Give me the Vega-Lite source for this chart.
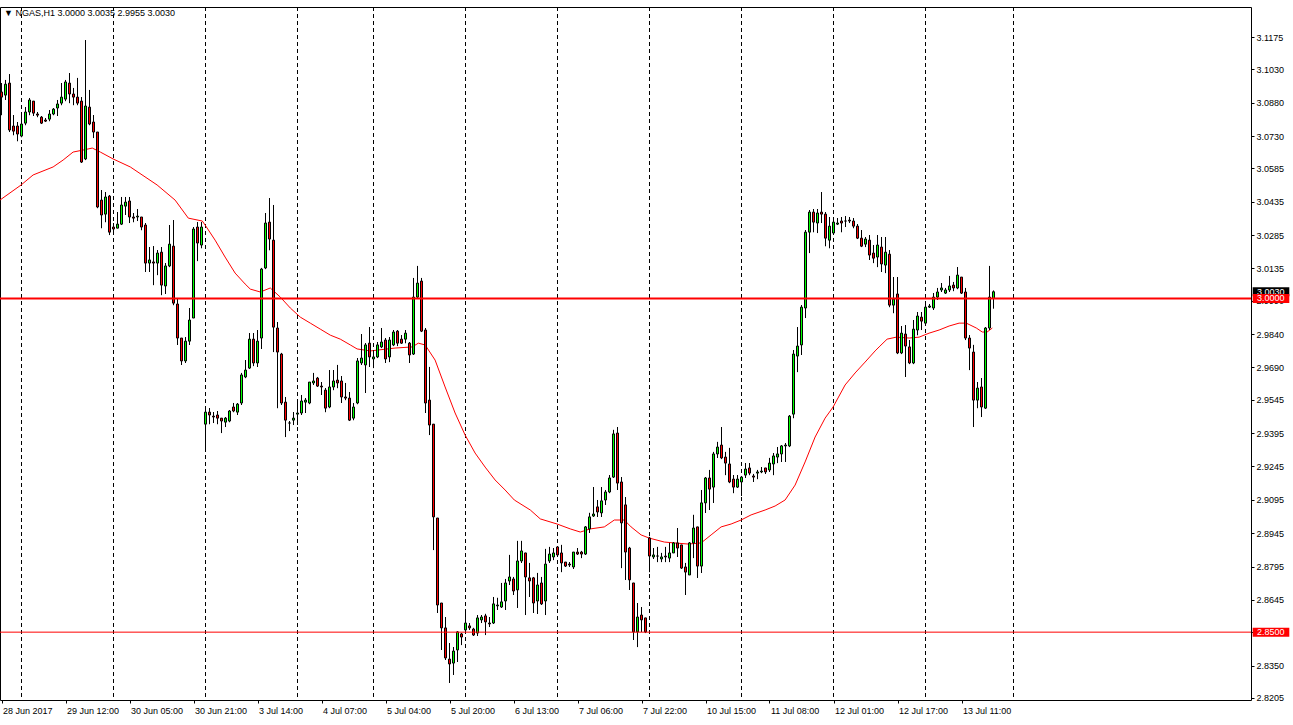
{
"$schema": "https://vega.github.io/schema/vega-lite/v6.json",
"width": 1251,
"height": 693,
"autosize": {"type": "none"},
"padding": {"left": 0, "top": 7, "right": 42, "bottom": 25},
"background": "white",
"title": {"text": "▼ NGAS,H1  3.0000 3.0035 2.9955 3.0030", "anchor": "start", "frame": "group", "orient": "top", "offset": -11, "dx": 4, "fontSize": 9, "fontWeight": "normal", "font": "Liberation Sans", "color": "black"},
"config": {"view": {"stroke": "black", "strokeWidth": 1}, "scale": {"continuousPadding": 0}, "axis": {"labelOverlap": false, "labelFlush": false, "labelBound": false}},
"datasets": {
"bars": [
{"i":1,"o":3.0928,"h":3.0968,"l":3.0824,"c":3.0905},
{"i":2,"o":3.0914,"h":3.0982,"l":3.0892,"c":3.0963},
{"i":3,"o":3.0968,"h":3.1008,"l":3.0748,"c":3.0757},
{"i":4,"o":3.0775,"h":3.0824,"l":3.0734,"c":3.0752},
{"i":5,"o":3.0775,"h":3.0793,"l":3.0707,"c":3.0739},
{"i":6,"o":3.0730,"h":3.0824,"l":3.0725,"c":3.0784},
{"i":7,"o":3.0788,"h":3.0860,"l":3.0779,"c":3.0838},
{"i":8,"o":3.0838,"h":3.0901,"l":3.0824,"c":3.0892},
{"i":9,"o":3.0887,"h":3.0887,"l":3.0820,"c":3.0833},
{"i":10,"o":3.0829,"h":3.0838,"l":3.0815,"c":3.0824},
{"i":11,"o":3.0815,"h":3.0820,"l":3.0784,"c":3.0788},
{"i":12,"o":3.0802,"h":3.0811,"l":3.0793,"c":3.0797},
{"i":13,"o":3.0806,"h":3.0847,"l":3.0797,"c":3.0829},
{"i":14,"o":3.0829,"h":3.0856,"l":3.0824,"c":3.0851},
{"i":15,"o":3.0856,"h":3.0892,"l":3.0820,"c":3.0874},
{"i":16,"o":3.0878,"h":3.0968,"l":3.0869,"c":3.0905},
{"i":17,"o":3.0896,"h":3.0982,"l":3.0887,"c":3.0973},
{"i":18,"o":3.0968,"h":3.1013,"l":3.0878,"c":3.0919},
{"i":19,"o":3.0919,"h":3.0946,"l":3.0869,"c":3.0905},
{"i":20,"o":3.0905,"h":3.0991,"l":3.0869,"c":3.0878},
{"i":21,"o":3.0887,"h":3.0905,"l":3.0609,"c":3.0613},
{"i":22,"o":3.0627,"h":3.1161,"l":3.0622,"c":3.0865},
{"i":23,"o":3.0860,"h":3.0937,"l":3.0779,"c":3.0784},
{"i":24,"o":3.0793,"h":3.0824,"l":3.0721,"c":3.0748},
{"i":25,"o":3.0748,"h":3.0748,"l":3.0406,"c":3.0411},
{"i":26,"o":3.0442,"h":3.0487,"l":3.0316,"c":3.0375},
{"i":27,"o":3.0379,"h":3.0478,"l":3.0343,"c":3.0456},
{"i":28,"o":3.0460,"h":3.0465,"l":3.0285,"c":3.0298},
{"i":29,"o":3.0321,"h":3.0339,"l":3.0298,"c":3.0312},
{"i":30,"o":3.0316,"h":3.0388,"l":3.0316,"c":3.0334},
{"i":31,"o":3.0334,"h":3.0456,"l":3.0330,"c":3.0420},
{"i":32,"o":3.0415,"h":3.0456,"l":3.0375,"c":3.0433},
{"i":33,"o":3.0438,"h":3.0456,"l":3.0339,"c":3.0366},
{"i":34,"o":3.0366,"h":3.0384,"l":3.0343,"c":3.0361},
{"i":35,"o":3.0366,"h":3.0402,"l":3.0348,"c":3.0370},
{"i":36,"o":3.0366,"h":3.0366,"l":3.0307,"c":3.0321},
{"i":37,"o":3.0330,"h":3.0339,"l":3.0119,"c":3.0159},
{"i":38,"o":3.0159,"h":3.0231,"l":3.0119,"c":3.0173},
{"i":39,"o":3.0164,"h":3.0235,"l":3.0060,"c":3.0159},
{"i":40,"o":3.0159,"h":3.0217,"l":3.0105,"c":3.0204},
{"i":41,"o":3.0208,"h":3.0231,"l":3.0015,"c":3.0060},
{"i":42,"o":3.0056,"h":3.0159,"l":3.0020,"c":3.0146},
{"i":43,"o":3.0146,"h":3.0330,"l":3.0141,"c":3.0244},
{"i":44,"o":3.0235,"h":3.0352,"l":2.9970,"c":2.9979},
{"i":45,"o":2.9975,"h":3.0002,"l":2.9791,"c":2.9822},
{"i":46,"o":2.9822,"h":2.9822,"l":2.9701,"c":2.9719},
{"i":47,"o":2.9719,"h":2.9826,"l":2.9710,"c":2.9808},
{"i":48,"o":2.9808,"h":2.9957,"l":2.9791,"c":2.9903},
{"i":49,"o":2.9912,"h":3.0321,"l":2.9912,"c":3.0312},
{"i":50,"o":3.0321,"h":3.0343,"l":3.0168,"c":3.0249},
{"i":51,"o":3.0240,"h":3.0343,"l":3.0226,"c":3.0321},
{"i":52,"o":2.9435,"h":2.9503,"l":2.9310,"c":2.9489},
{"i":53,"o":2.9489,"h":2.9507,"l":2.9435,"c":2.9476},
{"i":54,"o":2.9471,"h":2.9489,"l":2.9440,"c":2.9467},
{"i":55,"o":2.9476,"h":2.9494,"l":2.9435,"c":2.9462},
{"i":56,"o":2.9462,"h":2.9462,"l":2.9395,"c":2.9449},
{"i":57,"o":2.9444,"h":2.9467,"l":2.9422,"c":2.9462},
{"i":58,"o":2.9449,"h":2.9498,"l":2.9444,"c":2.9494},
{"i":59,"o":2.9512,"h":2.9530,"l":2.9489,"c":2.9494},
{"i":60,"o":2.9489,"h":2.9530,"l":2.9476,"c":2.9525},
{"i":61,"o":2.9530,"h":2.9665,"l":2.9521,"c":2.9656},
{"i":62,"o":2.9647,"h":2.9723,"l":2.9642,"c":2.9678},
{"i":63,"o":2.9687,"h":2.9844,"l":2.9683,"c":2.9817},
{"i":64,"o":2.9817,"h":2.9844,"l":2.9696,"c":2.9710},
{"i":65,"o":2.9710,"h":2.9858,"l":2.9692,"c":2.9808},
{"i":66,"o":2.9822,"h":3.0137,"l":2.9773,"c":3.0132},
{"i":67,"o":3.0137,"h":3.0384,"l":3.0132,"c":3.0339},
{"i":68,"o":3.0343,"h":3.0451,"l":3.0217,"c":3.0267},
{"i":69,"o":3.0262,"h":3.0420,"l":2.9759,"c":2.9871},
{"i":70,"o":2.9867,"h":2.9894,"l":2.9507,"c":2.9759},
{"i":71,"o":2.9750,"h":2.9755,"l":2.9521,"c":2.9530},
{"i":72,"o":2.9534,"h":2.9557,"l":2.9377,"c":2.9453},
{"i":73,"o":2.9440,"h":2.9449,"l":2.9404,"c":2.9440},
{"i":74,"o":2.9453,"h":2.9489,"l":2.9431,"c":2.9462},
{"i":75,"o":2.9480,"h":2.9530,"l":2.9431,"c":2.9485},
{"i":76,"o":2.9485,"h":2.9566,"l":2.9476,"c":2.9539},
{"i":77,"o":2.9534,"h":2.9552,"l":2.9485,"c":2.9543},
{"i":78,"o":2.9530,"h":2.9624,"l":2.9525,"c":2.9624},
{"i":79,"o":2.9620,"h":2.9665,"l":2.9611,"c":2.9629},
{"i":80,"o":2.9642,"h":2.9647,"l":2.9602,"c":2.9606},
{"i":81,"o":2.9606,"h":2.9624,"l":2.9566,"c":2.9602},
{"i":82,"o":2.9588,"h":2.9597,"l":2.9489,"c":2.9507},
{"i":83,"o":2.9512,"h":2.9678,"l":2.9507,"c":2.9602},
{"i":84,"o":2.9602,"h":2.9678,"l":2.9588,"c":2.9629},
{"i":85,"o":2.9633,"h":2.9701,"l":2.9597,"c":2.9620},
{"i":86,"o":2.9629,"h":2.9651,"l":2.9530,"c":2.9557},
{"i":87,"o":2.9557,"h":2.9620,"l":2.9543,"c":2.9552},
{"i":88,"o":2.9552,"h":2.9579,"l":2.9449,"c":2.9453},
{"i":89,"o":2.9462,"h":2.9530,"l":2.9453,"c":2.9512},
{"i":90,"o":2.9530,"h":2.9732,"l":2.9525,"c":2.9719},
{"i":91,"o":2.9710,"h":2.9840,"l":2.9701,"c":2.9732},
{"i":92,"o":2.9701,"h":2.9799,"l":2.9575,"c":2.9791},
{"i":93,"o":2.9799,"h":2.9871,"l":2.9692,"c":2.9737},
{"i":94,"o":2.9728,"h":2.9768,"l":2.9687,"c":2.9737},
{"i":95,"o":2.9737,"h":2.9804,"l":2.9732,"c":2.9791},
{"i":96,"o":2.9782,"h":2.9867,"l":2.9777,"c":2.9804},
{"i":97,"o":2.9813,"h":2.9822,"l":2.9710,"c":2.9728},
{"i":98,"o":2.9737,"h":2.9826,"l":2.9714,"c":2.9813},
{"i":99,"o":2.9791,"h":2.9858,"l":2.9786,"c":2.9849},
{"i":100,"o":2.9853,"h":2.9858,"l":2.9786,"c":2.9799},
{"i":101,"o":2.9817,"h":2.9835,"l":2.9797,"c":2.9799},
{"i":102,"o":2.9817,"h":2.9858,"l":2.9799,"c":2.9844},
{"i":103,"o":2.9799,"h":2.9804,"l":2.9710,"c":2.9746},
{"i":104,"o":2.9750,"h":3.0092,"l":2.9746,"c":3.0006},
{"i":105,"o":3.0006,"h":3.0146,"l":3.0002,"c":3.0069},
{"i":106,"o":3.0078,"h":3.0092,"l":2.9849,"c":2.9853},
{"i":107,"o":2.9858,"h":2.9867,"l":2.9485,"c":2.9530},
{"i":108,"o":2.9543,"h":2.9692,"l":2.9386,"c":2.9431},
{"i":109,"o":2.9435,"h":2.9435,"l":2.8869,"c":2.9018},
{"i":110,"o":2.9013,"h":2.9013,"l":2.8586,"c":2.8622},
{"i":111,"o":2.8631,"h":2.8631,"l":2.8420,"c":2.8519},
{"i":112,"o":2.8519,"h":2.8568,"l":2.8375,"c":2.8384},
{"i":113,"o":2.8379,"h":2.8451,"l":2.8272,"c":2.8357},
{"i":114,"o":2.8361,"h":2.8433,"l":2.8308,"c":2.8415},
{"i":115,"o":2.8420,"h":2.8505,"l":2.8366,"c":2.8501},
{"i":116,"o":2.8492,"h":2.8496,"l":2.8442,"c":2.8478},
{"i":117,"o":2.8510,"h":2.8586,"l":2.8496,"c":2.8541},
{"i":118,"o":2.8528,"h":2.8541,"l":2.8510,"c":2.8519},
{"i":119,"o":2.8514,"h":2.8519,"l":2.8483,"c":2.8487},
{"i":120,"o":2.8496,"h":2.8577,"l":2.8483,"c":2.8564},
{"i":121,"o":2.8555,"h":2.8577,"l":2.8541,"c":2.8568},
{"i":122,"o":2.8573,"h":2.8582,"l":2.8487,"c":2.8546},
{"i":123,"o":2.8541,"h":2.8568,"l":2.8523,"c":2.8537},
{"i":124,"o":2.8541,"h":2.8658,"l":2.8537,"c":2.8627},
{"i":125,"o":2.8618,"h":2.8654,"l":2.8600,"c":2.8622},
{"i":126,"o":2.8613,"h":2.8721,"l":2.8609,"c":2.8636},
{"i":127,"o":2.8640,"h":2.8739,"l":2.8600,"c":2.8721},
{"i":128,"o":2.8730,"h":2.8847,"l":2.8712,"c":2.8748},
{"i":129,"o":2.8739,"h":2.8748,"l":2.8667,"c":2.8685},
{"i":130,"o":2.8690,"h":2.8910,"l":2.8609,"c":2.8820},
{"i":131,"o":2.8820,"h":2.8910,"l":2.8811,"c":2.8865},
{"i":132,"o":2.8856,"h":2.8856,"l":2.8577,"c":2.8748},
{"i":133,"o":2.8744,"h":2.8811,"l":2.8658,"c":2.8730},
{"i":134,"o":2.8744,"h":2.8748,"l":2.8586,"c":2.8631},
{"i":135,"o":2.8640,"h":2.8766,"l":2.8582,"c":2.8712},
{"i":136,"o":2.8721,"h":2.8748,"l":2.8622,"c":2.8627},
{"i":137,"o":2.8640,"h":2.8874,"l":2.8577,"c":2.8806},
{"i":138,"o":2.8820,"h":2.8883,"l":2.8811,"c":2.8851},
{"i":139,"o":2.8838,"h":2.8878,"l":2.8824,"c":2.8856},
{"i":140,"o":2.8883,"h":2.8883,"l":2.8842,"c":2.8847},
{"i":141,"o":2.8856,"h":2.8892,"l":2.8770,"c":2.8811},
{"i":142,"o":2.8815,"h":2.8815,"l":2.8793,"c":2.8797},
{"i":143,"o":2.8806,"h":2.8815,"l":2.8793,"c":2.8802},
{"i":144,"o":2.8793,"h":2.8860,"l":2.8784,"c":2.8860},
{"i":145,"o":2.8860,"h":2.8878,"l":2.8847,"c":2.8851},
{"i":146,"o":2.8860,"h":2.8865,"l":2.8833,"c":2.8851},
{"i":147,"o":2.8851,"h":2.8977,"l":2.8847,"c":2.8973},
{"i":148,"o":2.8964,"h":2.9036,"l":2.8946,"c":2.9018},
{"i":149,"o":2.9022,"h":2.9152,"l":2.9018,"c":2.9031},
{"i":150,"o":2.9063,"h":2.9094,"l":2.9018,"c":2.9040},
{"i":151,"o":2.9036,"h":2.9152,"l":2.9018,"c":2.9090},
{"i":152,"o":2.9094,"h":2.9139,"l":2.9072,"c":2.9130},
{"i":153,"o":2.9130,"h":2.9206,"l":2.9125,"c":2.9193},
{"i":154,"o":2.9197,"h":2.9409,"l":2.9193,"c":2.9391},
{"i":155,"o":2.9395,"h":2.9422,"l":2.9139,"c":2.9170},
{"i":156,"o":2.9175,"h":2.9197,"l":2.8788,"c":2.8991},
{"i":157,"o":2.9072,"h":2.9107,"l":2.8735,"c":2.8860},
{"i":158,"o":2.8878,"h":2.8883,"l":2.8690,"c":2.8735},
{"i":159,"o":2.8721,"h":2.8721,"l":2.8465,"c":2.8501},
{"i":160,"o":2.8501,"h":2.8631,"l":2.8433,"c":2.8568},
{"i":161,"o":2.8577,"h":2.8613,"l":2.8501,"c":2.8555},
{"i":162,"o":2.8564,"h":2.8564,"l":2.8496,"c":2.8501},
{"i":163,"o":2.8923,"h":2.8928,"l":2.8770,"c":2.8842},
{"i":164,"o":2.8838,"h":2.8878,"l":2.8829,"c":2.8847},
{"i":165,"o":2.8842,"h":2.8883,"l":2.8815,"c":2.8842},
{"i":166,"o":2.8829,"h":2.8856,"l":2.8815,"c":2.8838},
{"i":167,"o":2.8842,"h":2.8883,"l":2.8815,"c":2.8838},
{"i":168,"o":2.8833,"h":2.8901,"l":2.8815,"c":2.8856},
{"i":169,"o":2.8856,"h":2.8905,"l":2.8856,"c":2.8901},
{"i":170,"o":2.8901,"h":2.8968,"l":2.8838,"c":2.8878},
{"i":171,"o":2.8892,"h":2.8892,"l":2.8784,"c":2.8788},
{"i":172,"o":2.8793,"h":2.8811,"l":2.8667,"c":2.8770},
{"i":173,"o":2.8757,"h":2.8905,"l":2.8757,"c":2.8901},
{"i":174,"o":2.8901,"h":2.9027,"l":2.8833,"c":2.8968},
{"i":175,"o":2.8973,"h":2.8973,"l":2.8744,"c":2.8797},
{"i":176,"o":2.8797,"h":2.9139,"l":2.8766,"c":2.9081},
{"i":177,"o":2.9081,"h":2.9197,"l":2.9036,"c":2.9193},
{"i":178,"o":2.9193,"h":2.9229,"l":2.9049,"c":2.9143},
{"i":179,"o":2.9152,"h":2.9310,"l":2.9081,"c":2.9301},
{"i":180,"o":2.9301,"h":2.9355,"l":2.9283,"c":2.9332},
{"i":181,"o":2.9341,"h":2.9422,"l":2.9278,"c":2.9283},
{"i":182,"o":2.9287,"h":2.9310,"l":2.9206,"c":2.9260},
{"i":183,"o":2.9256,"h":2.9328,"l":2.9170,"c":2.9175},
{"i":184,"o":2.9188,"h":2.9206,"l":2.9125,"c":2.9152},
{"i":185,"o":2.9152,"h":2.9206,"l":2.9148,"c":2.9188},
{"i":186,"o":2.9175,"h":2.9202,"l":2.9112,"c":2.9197},
{"i":187,"o":2.9206,"h":2.9260,"l":2.9193,"c":2.9233},
{"i":188,"o":2.9238,"h":2.9260,"l":2.9206,"c":2.9215},
{"i":189,"o":2.9202,"h":2.9211,"l":2.9175,"c":2.9197},
{"i":190,"o":2.9215,"h":2.9229,"l":2.9188,"c":2.9220},
{"i":191,"o":2.9220,"h":2.9242,"l":2.9215,"c":2.9224},
{"i":192,"o":2.9238,"h":2.9238,"l":2.9211,"c":2.9220},
{"i":193,"o":2.9229,"h":2.9283,"l":2.9220,"c":2.9260},
{"i":194,"o":2.9256,"h":2.9305,"l":2.9206,"c":2.9292},
{"i":195,"o":2.9287,"h":2.9332,"l":2.9260,"c":2.9301},
{"i":196,"o":2.9301,"h":2.9341,"l":2.9265,"c":2.9337},
{"i":197,"o":2.9337,"h":2.9350,"l":2.9265,"c":2.9341},
{"i":198,"o":2.9337,"h":2.9476,"l":2.9332,"c":2.9471},
{"i":199,"o":2.9480,"h":2.9768,"l":2.9462,"c":2.9750},
{"i":200,"o":2.9741,"h":2.9871,"l":2.9669,"c":2.9786},
{"i":201,"o":2.9791,"h":2.9970,"l":2.9746,"c":2.9961},
{"i":202,"o":2.9957,"h":3.0307,"l":2.9912,"c":3.0298},
{"i":203,"o":3.0298,"h":3.0397,"l":3.0204,"c":3.0388},
{"i":204,"o":3.0388,"h":3.0402,"l":3.0298,"c":3.0343},
{"i":205,"o":3.0339,"h":3.0402,"l":3.0294,"c":3.0384},
{"i":206,"o":3.0388,"h":3.0478,"l":3.0339,"c":3.0379},
{"i":207,"o":3.0379,"h":3.0388,"l":3.0235,"c":3.0271},
{"i":208,"o":3.0262,"h":3.0366,"l":3.0226,"c":3.0325},
{"i":209,"o":3.0294,"h":3.0366,"l":3.0289,"c":3.0343},
{"i":210,"o":3.0334,"h":3.0361,"l":3.0330,"c":3.0339},
{"i":211,"o":3.0348,"h":3.0366,"l":3.0298,"c":3.0339},
{"i":212,"o":3.0348,"h":3.0370,"l":3.0321,"c":3.0348},
{"i":213,"o":3.0352,"h":3.0366,"l":3.0339,"c":3.0348},
{"i":214,"o":3.0348,"h":3.0361,"l":3.0316,"c":3.0325},
{"i":215,"o":3.0325,"h":3.0334,"l":3.0267,"c":3.0271},
{"i":216,"o":3.0271,"h":3.0307,"l":3.0231,"c":3.0235},
{"i":217,"o":3.0244,"h":3.0276,"l":3.0231,"c":3.0267},
{"i":218,"o":3.0262,"h":3.0285,"l":3.0173,"c":3.0195},
{"i":219,"o":3.0204,"h":3.0240,"l":3.0159,"c":3.0181},
{"i":220,"o":3.0186,"h":3.0285,"l":3.0141,"c":3.0240},
{"i":221,"o":3.0231,"h":3.0276,"l":3.0119,"c":3.0155},
{"i":222,"o":3.0150,"h":3.0276,"l":3.0114,"c":3.0208},
{"i":223,"o":3.0199,"h":3.0217,"l":2.9961,"c":2.9970},
{"i":224,"o":2.9970,"h":3.0096,"l":2.9934,"c":2.9997},
{"i":225,"o":3.0020,"h":3.0096,"l":2.9750,"c":2.9755},
{"i":226,"o":2.9755,"h":2.9876,"l":2.9750,"c":2.9844},
{"i":227,"o":2.9840,"h":2.9880,"l":2.9647,"c":2.9786},
{"i":228,"o":2.9782,"h":2.9813,"l":2.9705,"c":2.9710},
{"i":229,"o":2.9710,"h":2.9903,"l":2.9705,"c":2.9862},
{"i":230,"o":2.9858,"h":2.9939,"l":2.9835,"c":2.9921},
{"i":231,"o":2.9916,"h":2.9939,"l":2.9858,"c":2.9898},
{"i":232,"o":2.9889,"h":2.9970,"l":2.9885,"c":2.9961},
{"i":233,"o":2.9961,"h":2.9975,"l":2.9957,"c":2.9966},
{"i":234,"o":2.9957,"h":3.0024,"l":2.9948,"c":3.0006},
{"i":235,"o":3.0006,"h":3.0047,"l":2.9993,"c":3.0029},
{"i":236,"o":3.0038,"h":3.0069,"l":3.0029,"c":3.0047},
{"i":237,"o":3.0024,"h":3.0047,"l":3.0020,"c":3.0038},
{"i":238,"o":3.0038,"h":3.0101,"l":3.0029,"c":3.0056},
{"i":239,"o":3.0060,"h":3.0074,"l":3.0033,"c":3.0047},
{"i":240,"o":3.0047,"h":3.0141,"l":3.0042,"c":3.0105},
{"i":241,"o":3.0096,"h":3.0096,"l":3.0020,"c":3.0024},
{"i":242,"o":3.0029,"h":3.0047,"l":2.9813,"c":2.9822},
{"i":243,"o":2.9822,"h":2.9835,"l":2.9678,"c":2.9777},
{"i":244,"o":2.9759,"h":2.9791,"l":2.9422,"c":2.9543},
{"i":245,"o":2.9543,"h":2.9624,"l":2.9507,"c":2.9597},
{"i":246,"o":2.9602,"h":2.9642,"l":2.9467,"c":2.9512},
{"i":247,"o":2.9507,"h":2.9871,"l":2.9503,"c":2.9867},
{"i":248,"o":2.9867,"h":3.0146,"l":2.9858,"c":3.0006},
{"i":249,"o":3.0000,"h":3.0035,"l":2.9955,"c":3.0030}
],
"ma": [
{"i":0.6,"p":3.0442},{"i":5.9,"p":3.0510},{"i":8.9,"p":3.0555},{"i":13.9,"p":3.0591},{"i":16.4,"p":3.0622},{"i":18.9,"p":3.0658},{"i":21.4,"p":3.0667},{"i":23.7,"p":3.0676},{"i":25.7,"p":3.0658},{"i":28.9,"p":3.0627},{"i":33.2,"p":3.0591},{"i":39.9,"p":3.0510},{"i":44.4,"p":3.0442},{"i":47.7,"p":3.0361},{"i":51.2,"p":3.0348},{"i":51.9,"p":3.0330},{"i":54.4,"p":3.0262},{"i":56.9,"p":3.0186},{"i":59.4,"p":3.0114},{"i":61.9,"p":3.0065},{"i":63.2,"p":3.0042},{"i":65.7,"p":3.0029},{"i":68.2,"p":3.0047},{"i":70.7,"p":3.0006},{"i":73.2,"p":2.9957},{"i":75.7,"p":2.9916},{"i":78.2,"p":2.9889},{"i":80.7,"p":2.9862},{"i":83.2,"p":2.9835},{"i":85.7,"p":2.9817},{"i":88.2,"p":2.9791},{"i":89.9,"p":2.9773},{"i":93.2,"p":2.9764},{"i":99.4,"p":2.9777},{"i":103.7,"p":2.9782},{"i":105.2,"p":2.9799},{"i":106.9,"p":2.9791},{"i":109.4,"p":2.9723},{"i":111.9,"p":2.9602},{"i":114.4,"p":2.9485},{"i":116.9,"p":2.9386},{"i":119.4,"p":2.9305},{"i":121.9,"p":2.9242},{"i":124.4,"p":2.9184},{"i":126.9,"p":2.9139},{"i":129.2,"p":2.9094},{"i":133.2,"p":2.9049},{"i":135.7,"p":2.9009},{"i":139.9,"p":2.8986},{"i":143.2,"p":2.8964},{"i":145.7,"p":2.8950},{"i":148.2,"p":2.8964},{"i":151.7,"p":2.8973},{"i":154.2,"p":2.9004},{"i":156.7,"p":2.9004},{"i":158.4,"p":2.8973},{"i":160.9,"p":2.8937},{"i":162.9,"p":2.8923},{"i":166.7,"p":2.8905},{"i":169.2,"p":2.8901},{"i":172.7,"p":2.8896},{"i":175.9,"p":2.8901},{"i":178.4,"p":2.8937},{"i":180.9,"p":2.8973},{"i":183.4,"p":2.8986},{"i":185.9,"p":2.9004},{"i":188.4,"p":2.9027},{"i":191.9,"p":2.9049},{"i":194.4,"p":2.9067},{"i":196.9,"p":2.9094},{"i":199.4,"p":2.9161},{"i":201.9,"p":2.9265},{"i":204.4,"p":2.9377},{"i":206.9,"p":2.9462},{"i":208.9,"p":2.9512},{"i":211.9,"p":2.9611},{"i":214.4,"p":2.9665},{"i":216.9,"p":2.9714},{"i":219.4,"p":2.9764},{"i":220.4,"p":2.9782},{"i":222.4,"p":2.9817},{"i":224.7,"p":2.9826},{"i":227.9,"p":2.9822},{"i":230.4,"p":2.9826},{"i":232.9,"p":2.9844},{"i":235.4,"p":2.9858},{"i":237.9,"p":2.9876},{"i":240.4,"p":2.9889},{"i":242.2,"p":2.9889},{"i":244.7,"p":2.9867},{"i":246.2,"p":2.9849},{"i":247.4,"p":2.9849},{"i":248.7,"p":2.9867}
],
"seps": [{"i":6},{"i":29},{"i":52},{"i":75},{"i":94},{"i":117},{"i":140},{"i":163},{"i":186},{"i":209},{"i":232},{"i":254}],
"levels": [{"p":3.0,"t":"3.0000"},{"p":2.85,"t":"2.8500"}],
"cur": [{"p":3.003,"t":"3.0030"}]
},
"layer": [
{
"data": {"name": "bars"},
"mark": {"type": "rule", "color": "black", "strokeWidth": 1},
"encoding": {
"x": {"field": "i", "type": "quantitative", "title": null,
"scale": {"domain": [0.625, 313.375], "nice": false, "zero": false, "padding": 0},
"axis": {"orient": "bottom", "title": null, "values": [1,17,33,49,65,81,97,113,129,145,161,177,193,209,225,241], "tickCount": 40,
"labelExpr": "['28 Jun 2017','29 Jun 12:00','30 Jun 05:00','30 Jun 21:00','3 Jul 14:00','4 Jul 07:00','5 Jul 04:00','5 Jul 20:00','6 Jul 13:00','7 Jul 06:00','7 Jul 22:00','10 Jul 15:00','11 Jul 08:00','12 Jul 01:00','12 Jul 17:00','13 Jul 11:00'][round((datum.value-1)/16)]",
"domain": false, "grid": false, "ticks": true, "labels": true, "tickSize": 3, "tickColor": "black", "labelAlign": "left", "labelBaseline": "top", "labelPadding": 3, "labelOffset": 1, "labelFlush": false, "labelOverlap": false, "labelFont": "Liberation Sans", "labelFontSize": 9, "labelColor": "black"}},
"y": {"field": "l", "type": "quantitative", "title": null,
"scale": {"domain": [2.8195, 3.1310], "nice": false, "zero": false, "padding": 0},
"axis": {"orient": "right", "title": null, "values": [3.1175,3.1030,3.0880,3.0730,3.0585,3.0435,3.0285,3.0135,2.9990,2.9840,2.9690,2.9545,2.9395,2.9245,2.9095,2.8945,2.8795,2.8645,2.8500,2.8350,2.8205], "tickCount": 40,
"format": ".4f", "domain": false, "grid": false, "ticks": true, "labels": true, "tickSize": 3, "tickColor": "black", "labelPadding": 2, "labelBaseline": "middle", "labelOverlap": false, "labelFlush": false, "labelFont": "Liberation Sans", "labelFontSize": 9, "labelColor": "black"}},
"y2": {"field": "h"}
}
},
{
"data": {"name": "seps"},
"mark": {"type": "rule", "color": "black", "strokeWidth": 1, "strokeDash": [4, 3]},
"encoding": {
"x": {"field": "i", "type": "quantitative", "title": null}
}
},
{
"data": {"name": "ma"},
"mark": {"type": "line", "color": "#ff0000", "strokeWidth": 1},
"encoding": {
"x": {"field": "i", "type": "quantitative", "title": null},
"y": {"field": "p", "type": "quantitative", "title": null}
}
},
{
"data": {"name": "bars"},
"mark": {"type": "rule", "color": "black", "strokeWidth": 1},
"encoding": {
"x": {"field": "i", "type": "quantitative", "title": null},
"y": {"field": "l", "type": "quantitative", "title": null},
"y2": {"field": "h"}
}
},
{
"data": {"name": "bars"},
"mark": {"type": "bar", "width": 2, "stroke": "black", "strokeWidth": 1},
"encoding": {
"x": {"field": "i", "type": "quantitative", "title": null},
"y": {"field": "o", "type": "quantitative", "title": null},
"y2": {"field": "c"},
"fill": {"condition": {"test": "datum.c >= datum.o", "value": "#00ff00"}, "value": "#ff0000"}
}
},
{
"data": {"values": [{}]},
"mark": {"type": "rule", "color": "#ff0000", "strokeWidth": 2},
"encoding": {"y": {"datum": 3.0, "type": "quantitative", "title": null}}
},
{
"data": {"values": [{}]},
"mark": {"type": "rule", "color": "#ff0000", "strokeWidth": 1},
"encoding": {"y": {"datum": 2.85, "type": "quantitative", "title": null}}
},
{
"data": {"name": "cur"},
"mark": {"type": "bar", "orient": "horizontal", "height": 9, "color": "black", "clip": false},
"encoding": {
"x": {"datum": 313.8, "type": "quantitative", "title": null},
"x2": {"datum": 322.95},
"y": {"field": "p", "type": "quantitative", "title": null}
}
},
{
"data": {"name": "cur"},
"mark": {"type": "text", "align": "left", "baseline": "middle", "color": "white", "font": "Liberation Sans", "fontSize": 9, "clip": false},
"encoding": {
"x": {"datum": 314.9, "type": "quantitative", "title": null},
"y": {"field": "p", "type": "quantitative", "title": null},
"text": {"field": "t"}
}
},
{
"data": {"name": "levels"},
"mark": {"type": "bar", "orient": "horizontal", "height": 9, "color": "#ff0000", "clip": false},
"encoding": {
"x": {"datum": 313.8, "type": "quantitative", "title": null},
"x2": {"datum": 322.95},
"y": {"field": "p", "type": "quantitative", "title": null}
}
},
{
"data": {"name": "levels"},
"mark": {"type": "text", "align": "left", "baseline": "middle", "color": "white", "font": "Liberation Sans", "fontSize": 9, "clip": false},
"encoding": {
"x": {"datum": 314.9, "type": "quantitative", "title": null},
"y": {"field": "p", "type": "quantitative", "title": null},
"text": {"field": "t"}
}
}
]
}
